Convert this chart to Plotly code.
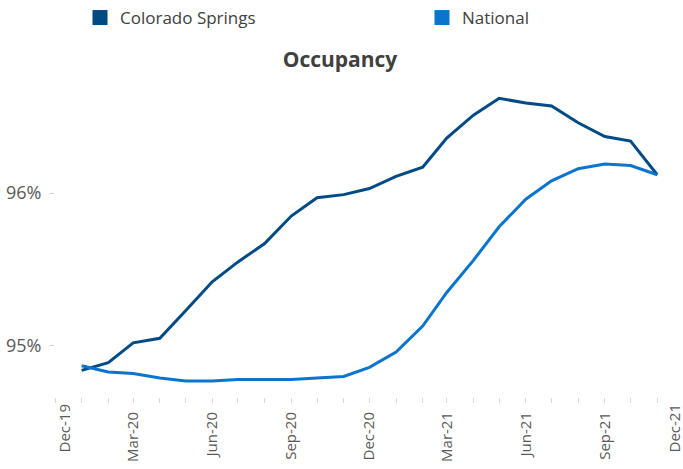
import plotly.graph_objects as go
import pandas as pd

months = pd.date_range("2020-01-01", "2021-11-01", freq="MS")

colorado_springs = [94.84, 94.89, 95.02, 95.05, 95.23, 95.42, 95.55, 95.67, 95.85, 95.97,
                    95.99, 96.03, 96.11, 96.17, 96.36, 96.51, 96.62, 96.59, 96.57, 96.46,
                    96.37, 96.34, 96.12]
national = [94.87, 94.83, 94.82, 94.79, 94.77, 94.77, 94.78, 94.78, 94.78, 94.79,
            94.80, 94.86, 94.96, 95.13, 95.35, 95.56, 95.78, 95.96, 96.08, 96.16,
            96.19, 96.18, 96.12]

tick_dates = ["2019-12-01", "2020-03-01", "2020-06-01", "2020-09-01", "2020-12-01",
              "2021-03-01", "2021-06-01", "2021-09-01", "2021-12-01"]
tick_labels = ["Dec-19", "Mar-20", "Jun-20", "Sep-20", "Dec-20",
               "Mar-21", "Jun-21", "Sep-21", "Dec-21"]

series_names = ["Colorado Springs", "National"]
series_colors = ["#004a86", "#0a74cf"]
legend_ids = ["legend", "legend2"]
legend_axes = ["x2", "x3"]

x_range = ["2019-12-01", "2021-12-01"]

fig = go.Figure()
for name, vals, col in zip(series_names, [colorado_springs, national], series_colors):
    fig.add_trace(go.Scatter(x=months, y=vals, mode="lines", name=name,
                             line=dict(color=col, width=3), showlegend=False,
                             hoverinfo="skip"))
for name, col, lg, xa in zip(series_names, series_colors, legend_ids, legend_axes):
    fig.add_trace(go.Scatter(x=[None], y=[None], mode="markers", name=name,
                             marker=dict(symbol="square", size=15, color=col),
                             showlegend=True, legend=lg, xaxis=xa))

legend_common = dict(orientation="h", yref="container", y=1.0, yanchor="top",
                     xref="container", xanchor="left",
                     bgcolor="rgba(0,0,0,0)",
                     font=dict(size=17, color="#404040", family="Open Sans"))

tickfont = dict(size=15, color="#595959", family="Open Sans")
overlay_common = dict(type="date", range=x_range, overlaying="x", anchor="y", side="bottom",
                      tickangle=-90, ticks="", showgrid=False, showline=False,
                      zeroline=False, ticklabeloverflow="allow", automargin=False,
                      ticklabelstandoff=3, tickfont=tickfont)

main_text = [""] + tick_labels[1:-1] + [""]

fig.update_layout(
    width=683, height=469,
    margin=dict(l=55, r=0, t=80, b=72),
    paper_bgcolor="white", plot_bgcolor="white",
    font=dict(family="Open Sans", color="#595959"),
    title=dict(text="<b>Occupancy</b>", x=340 / 683, xanchor="center",
               y=1 - 60 / 469, yanchor="middle",
               font=dict(size=21, color="#404040", family="Open Sans")),
    legend=dict(x=80 / 683, **legend_common),
    legend2=dict(x=422 / 683, **legend_common),
    xaxis=dict(type="date", range=x_range,
               tickvals=tick_dates, ticktext=main_text,
               tickangle=-90, ticks="outside", ticklen=5, tickcolor="#d9d9d9",
               minor=dict(ticks="outside", dtick="M1", tick0="2019-12-01",
                          ticklen=5, tickcolor="#d9d9d9"),
               showgrid=False, showline=False, zeroline=False,
               ticklabeloverflow="allow", automargin=False,
               ticklabelstandoff=3, tickfont=tickfont),
    xaxis2=dict(tickvals=tick_dates[:1], ticktext=tick_labels[:1],
                ticklabelshift=10, **overlay_common),
    xaxis3=dict(tickvals=tick_dates[-1:], ticktext=tick_labels[-1:],
                ticklabelshift=-8, **overlay_common),
    yaxis=dict(range=[94.666, 96.74], dtick=1, tick0=95, ticksuffix="%",
               ticks="outside", ticklen=5, tickcolor="#d9d9d9",
               ticklabelstandoff=4,
               showgrid=False, showline=False, zeroline=False, automargin=False,
               tickfont=dict(size=18, color="#595959")),
)

fig.write_html("out.html", config={"displayModeBar": False},
               post_script="document.body.style.margin='0';document.body.style.overflow='hidden';")
